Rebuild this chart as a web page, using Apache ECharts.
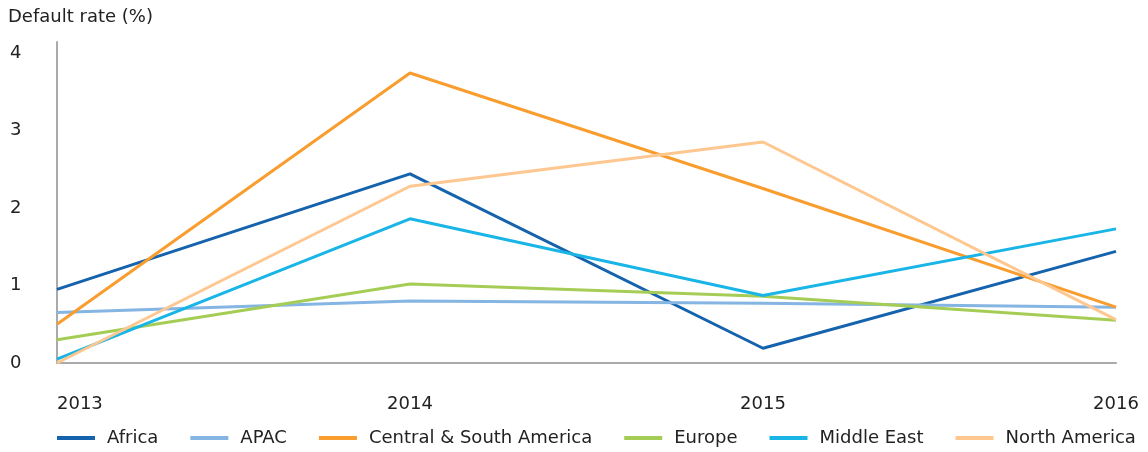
<!DOCTYPE html>
<html>
<head>
<meta charset="utf-8">
<script src="https://cdn.jsdelivr.net/npm/echarts@6/dist/echarts.min.js"></script>
<style>
  html, body { margin: 0; padding: 0; background: #fff; }
  #chart { width: 1148px; height: 452px; }
</style>
</head>
<body>
<div id="chart"></div>
<script>
const years = ['2013', '2014', '2015', '2016'];
const africa = [0.95, 2.44, 0.19, 1.44];
const apac = [0.65, 0.80, 0.77, 0.72];
const centralSouthAmerica = [0.50, 3.74, 2.25, 0.72];
const europe = [0.30, 1.02, 0.86, 0.55];
const middleEast = [0.05, 1.86, 0.87, 1.73];
const northAmerica = [0.00, 2.28, 2.85, 0.56];

const font = 'DejaVu Sans';

function line(name, data, color) {
    return {
        type: 'line',
        name: name,
        data: data,
        symbol: 'none',
        color: color,
        lineStyle: { width: 3, color: color }
    };
}

const chart = echarts.init(document.getElementById('chart'));

chart.setOption({
    animation: false,
    backgroundColor: '#fff',
    textStyle: { fontFamily: font },
    title: {
        text: 'Default rate (%)',
        left: 3,
        top: 3,
        textStyle: { fontFamily: font, fontSize: 18, fontWeight: 'normal', color: '#222' }
    },
    grid: { left: 57, right: 32, top: 42, bottom: 89 },
    legend: {
        left: 57,
        top: 429,
        padding: 0,
        itemWidth: 38,
        itemHeight: 4,
        itemGap: 32,
        icon: 'rect',
        textStyle: { fontFamily: font, fontSize: 18, color: '#222', padding: [0, 0, 0, 7] },
        data: ['Africa', 'APAC', 'Central & South America', 'Europe', 'Middle East', 'North America']
    },
    xAxis: {
        type: 'category',
        data: years,
        boundaryGap: false,
        axisLine: { lineStyle: { color: '#aaa', width: 2 } },
        axisTick: { show: false },
        axisLabel: {
            fontFamily: font,
            fontSize: 18,
            color: '#222',
            margin: 32,
            alignMinLabel: 'left'
        }
    },
    yAxis: {
        type: 'value',
        min: 0,
        max: 4.14,
        interval: 1,
        axisLine: { show: true, lineStyle: { color: '#aaa', width: 2 } },
        axisTick: { show: false },
        splitLine: { show: false },
        axisLabel: {
            fontFamily: font,
            fontSize: 18,
            color: '#222',
            align: 'left',
            margin: 47,
            formatter: v => (Number.isInteger(v) ? String(v) : '')
        }
    },
    series: [
        line('Africa', africa, '#1563ad'),
        line('APAC', apac, '#85b5e2'),
        line('Central & South America', centralSouthAmerica, '#f89d2e'),
        line('Europe', europe, '#a5cd55'),
        line('Middle East', middleEast, '#19b5e7'),
        line('North America', northAmerica, '#fec790')
    ]
});

window.addEventListener('resize', () => chart.resize());
</script>
</body>
</html>
